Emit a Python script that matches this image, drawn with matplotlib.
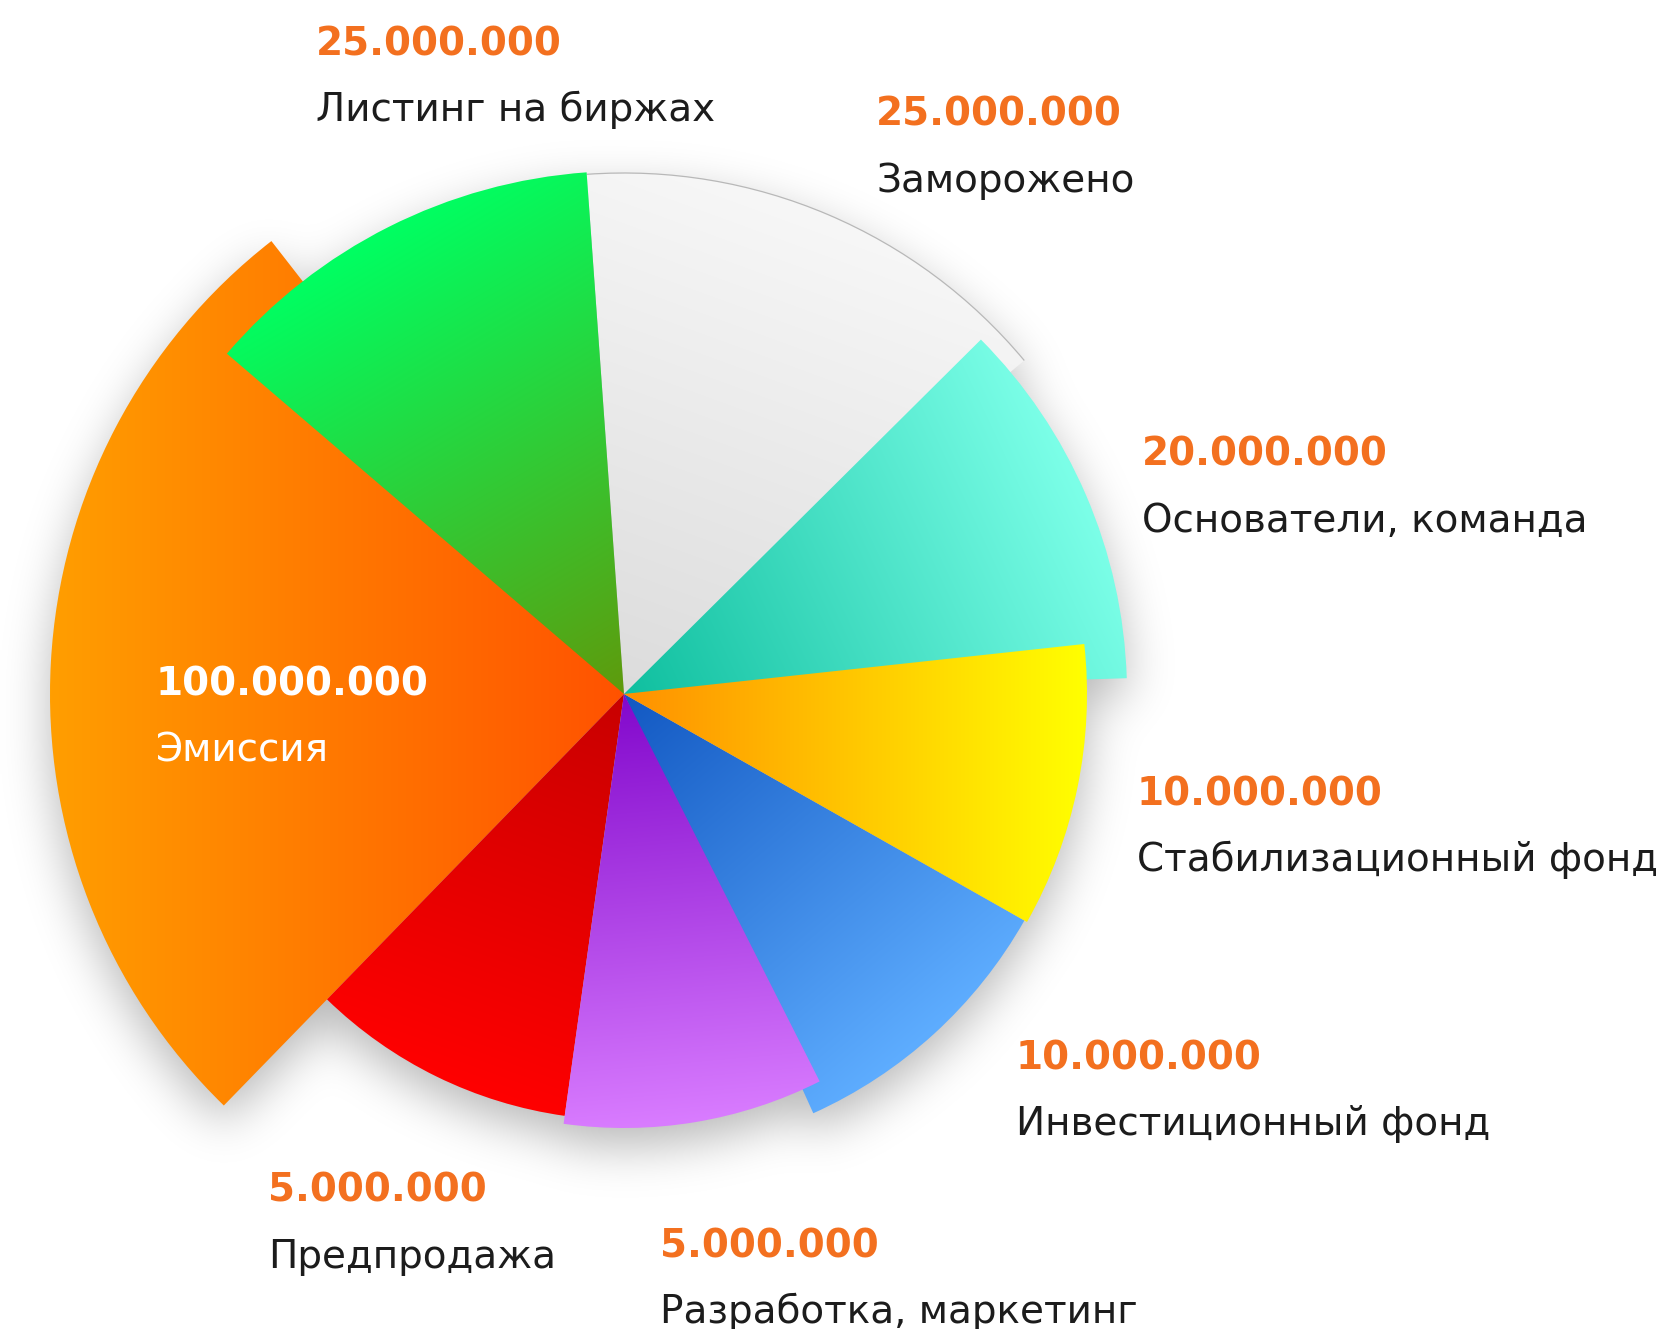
import numpy as np
import matplotlib.pyplot as plt
from matplotlib.patches import Wedge, Arc
from matplotlib.colors import to_rgb

# token distribution (values shown as text)
labels = ["Эмиссия", "Листинг на биржах", "Заморожено", "Основатели, команда",
          "Стабилизационный фонд", "Инвестиционный фонд",
          "Разработка, маркетинг", "Предпродажа"]
values = [100_000_000, 25_000_000, 25_000_000, 20_000_000,
          10_000_000, 10_000_000, 5_000_000, 5_000_000]

# sector shapes as drawn in the picture (degrees, pixels)
theta1 = [127.9, 94.1, 39.8, 1.8, -29.5, -65.7, -98.0, -134.2]
theta2 = [225.8, 139.4, 94.1, 44.8, 6.2, -29.5, -63.2, -98.0]
radius = [574, 523, 521, 503, 463, 460, 434, 426]

# gradient colours: centre -> rim, and direction of the gradient
c_in = ["#ff5200", "#5f9a0c", "#dcdcdc", "#0fbf9f", "#ff9000", "#1258c2", "#8208cc", "#c80000"]
c_out = ["#ff9e00", "#00ff62", "#f7f7f7", "#7cffe8", "#ffff00", "#5eadff", "#d97cff", "#ff0000"]
g_dir = [180, 120, 70, 25, 0, -50, -85, -110]
zord = [2, 4, 2, 3, 4, 2, 4, 3]

# label placement (pixels from top-left, value baseline)
txt_x = [156, 316, 876, 1142, 1137, 1016, 660, 268]
txt_y = [695, 55, 126, 466, 805, 1069, 1257, 1202]

W, H = 1671, 1329
cx, cy = 624, H - 694

fig = plt.figure(figsize=(W / 100, H / 100), dpi=100)
ax = fig.add_axes([0, 0, 1, 1])
ax.set_xlim(0, W)
ax.set_ylim(0, H)
ax.set_aspect("equal")
ax.axis("off")


def in_sector(X, Y, t1, t2, r, dy=0):
    R = np.hypot(X - cx, Y - (cy - dy))
    th = np.degrees(np.arctan2(Y - (cy - dy), X - cx))
    return (R <= r) & (((th - t1) % 360) <= ((t2 - t1) % 360))


def blur(a, s):
    k = np.exp(-0.5 * (np.arange(-3 * s, 3 * s + 1) / s) ** 2)
    k /= k.sum()
    a = np.apply_along_axis(lambda v: np.convolve(v, k, mode="same"), 0, a)
    a = np.apply_along_axis(lambda v: np.convolve(v, k, mode="same"), 1, a)
    return a


# soft drop shadow under the whole pie
step = 3
gx = np.arange(0, W, step) + step / 2
gy = np.arange(0, H, step) + step / 2
GX, GY = np.meshgrid(gx, gy)
mask = np.zeros_like(GX)
for t1, t2, r in zip(theta1, theta2, radius):
    mask = np.maximum(mask, in_sector(GX, GY, t1, t2, r, dy=18).astype(float))
sh = blur(mask, 8)
shadow = np.zeros(sh.shape + (4,))
shadow[..., 3] = sh * 0.28
ax.imshow(shadow, origin="lower", extent=[0, W, 0, H], zorder=1, interpolation="bilinear")

# gradient-filled sectors
for i in range(len(values)):
    r = radius[i]
    w = Wedge((cx, cy), r, theta1[i], theta2[i], facecolor="none", edgecolor="none",
              zorder=zord[i])
    ax.add_patch(w)
    n = 300
    xs = np.linspace(cx - r, cx + r, n)
    ys = np.linspace(cy - r, cy + r, n)
    X, Y = np.meshgrid(xs, ys)
    a = np.radians(g_dir[i])
    t = np.clip(((X - cx) * np.cos(a) + (Y - cy) * np.sin(a)) / r, 0, 1)[..., None]
    img = (1 - t) * np.array(to_rgb(c_in[i])) + t * np.array(to_rgb(c_out[i]))
    im = ax.imshow(img, origin="lower", extent=[cx - r, cx + r, cy - r, cy + r],
                   zorder=zord[i], interpolation="bilinear")
    im.set_clip_path(w)

# thin rim on the grey sector
ax.add_patch(Arc((cx, cy), 2 * radius[2], 2 * radius[2], theta1=theta1[2], theta2=theta2[2],
                 color="#b8b8b8", lw=0.9, zorder=2.5))

# value + name labels
font = ["DejaVu Sans"]
for i in range(len(values)):
    val = f"{values[i]:,}".replace(",", ".")
    inside = i == 0
    vcol = "white" if inside else "#f3701f"
    lcol = "white" if inside else "#1c1c1c"
    ax.text(txt_x[i], H - txt_y[i], val, color=vcol, fontsize=28, fontweight="bold",
            family=font, ha="left", va="baseline", zorder=6)
    ax.text(txt_x[i], H - txt_y[i] - 66, labels[i], color=lcol, fontsize=28,
            family=font, ha="left", va="baseline", zorder=6)

fig.savefig("out.png", dpi=100, facecolor="white")
